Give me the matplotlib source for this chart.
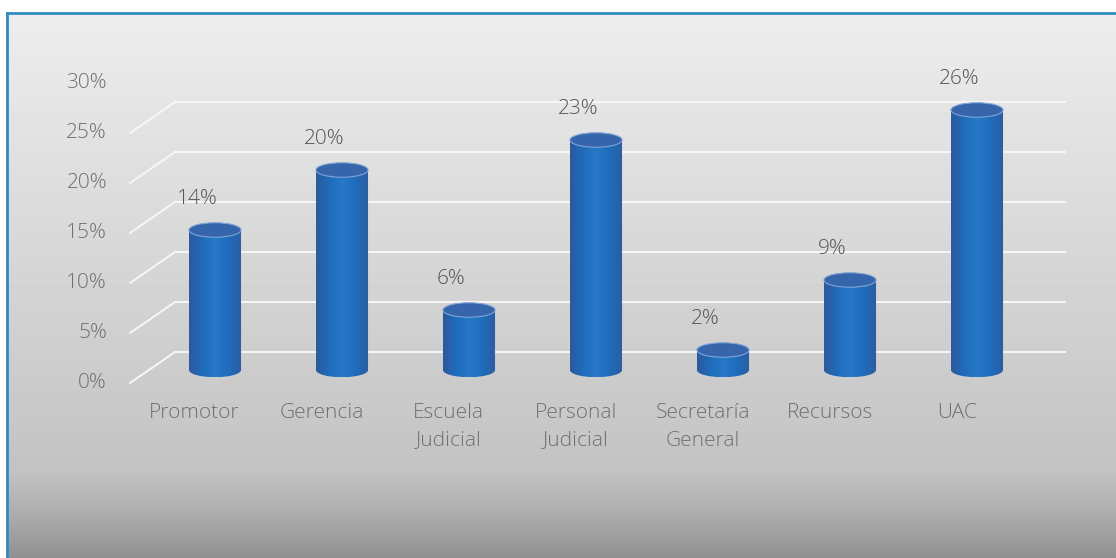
import numpy as np
import matplotlib
matplotlib.use("Agg")
import matplotlib.pyplot as plt
from matplotlib.patches import Ellipse, PathPatch, Rectangle
from matplotlib.path import Path
from matplotlib.colors import LinearSegmentedColormap

# data
categories = ["Promotor", "Gerencia", "Escuela\nJudicial", "Personal\nJudicial",
              "Secretaría\nGeneral", "Recursos", "UAC"]
values = [14, 20, 6, 23, 2, 9, 26]
value_labels = ["14%", "20%", "6%", "23%", "2%", "9%", "26%"]
yticks = [0, 5, 10, 15, 20, 25, 30]
ytick_labels = ["0%", "5%", "10%", "15%", "20%", "25%", "30%"]

plt.rcParams['font.family'] = ['Open Sans', 'DejaVu Sans']
axis_col = "#707070"
val_col = "#555555"
fsize = 15

fig = plt.figure(figsize=(11.16, 5.58), dpi=100)

# background gradient
bg = fig.add_axes([0, 0, 1, 1], zorder=0)
bg.set_axis_off()
h = np.linspace(0, 1, 558)
shade = np.interp(h, [0, 0.05, 0.84, 0.92, 1.0], [0.935, 0.925, 0.765, 0.68, 0.565])
bg.imshow(np.repeat(shade[:, None], 2, axis=1), cmap="gray", vmin=0, vmax=1,
          aspect="auto", extent=[0, 1, 0, 1], origin="upper")
bg.set_xlim(0, 1)
bg.set_ylim(0, 1)
# white above frame, blue frame line
bg.add_patch(Rectangle((0, 1 - 13/558), 1, 13/558, color="white", zorder=2))
bg.add_patch(Rectangle((0, 0), 7/1116, 1, color="white", zorder=2))
bg.plot([7/1116, 7/1116], [0, 1 - 13/558], color="#2e8bc0", lw=2, zorder=3)
bg.plot([7/1116, 1], [1 - 13/558, 1 - 13/558], color="#2e8bc0", lw=2, zorder=3)

ax = fig.add_axes([0, 0, 1, 1], zorder=1)
ax.patch.set_alpha(0)
ax.set_axis_off()
ax.set_xlim(-215/127, (1116-215)/127)
ax.set_ylim((370-558)/10, 37)

# perspective offsets
back_dx, back_dy = -0.315, 1.8
front_dx, front_dy = -0.669, -1.3
right_x = 6.69

for t, lab in zip(yticks, ytick_labels):
    if t < 30:
        ax.plot([front_dx, back_dx], [t + front_dy, t + back_dy], color="#f7f7f7", lw=1.4, zorder=2)
        ax.plot([back_dx, right_x], [t + back_dy, t + back_dy], color="#f7f7f7", lw=1.4, zorder=2)
    ax.text(-0.85, t + front_dy, lab, ha="right", va="center", fontsize=fsize, color=axis_col,
            fontweight="light")

# cylinders
bar_w = 0.41
ell_h = 1.45
grad = LinearSegmentedColormap.from_list(
    "cyl", ["#2d5a9c", "#1f6cbd", "#2779c7", "#1f6cbd", "#2c5d9f"])
xs = np.arange(len(values))
for x, v, vl, cat in zip(xs, values, value_labels, categories):
    l, r = x - bar_w/2, x + bar_w/2
    k = 0.5523
    a, b = bar_w/2, ell_h/2
    verts = [(l, v), (l, 0),
             (l, -b*k), (x - a*k, -b), (x, -b),
             (x + a*k, -b), (r, -b*k), (r, 0),
             (r, v), (l, v)]
    codes = [Path.MOVETO, Path.LINETO,
             Path.CURVE4, Path.CURVE4, Path.CURVE4,
             Path.CURVE4, Path.CURVE4, Path.CURVE4,
             Path.LINETO, Path.CLOSEPOLY]
    body = PathPatch(Path(verts, codes), facecolor="none", edgecolor="none")
    ax.add_patch(body)
    im = ax.imshow(np.linspace(0, 1, 64)[None, :], cmap=grad, aspect="auto",
                   extent=[l, r, -b, v], zorder=3)
    im.set_clip_path(body)
    ax.add_patch(Ellipse((x, v), bar_w, ell_h, facecolor="#3765ab", edgecolor="#7fa3d6",
                         lw=0.8, zorder=4))
    ax.text(x - 0.14, v + 3.1, vl, ha="center", va="center", fontsize=fsize, color=val_col,
            fontweight="light")
    ax.text(x - 0.16, -3.3, cat, ha="center", va="top", fontsize=fsize, color=axis_col,
            linespacing=1.5, fontweight="light")

fig.savefig("out.png", dpi=100)
